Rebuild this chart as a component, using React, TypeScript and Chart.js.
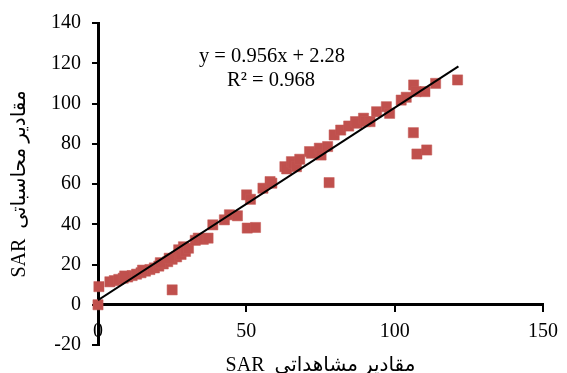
import { useEffect, useRef } from "react";
import { Chart, registerables } from "chart.js";

Chart.register(...registerables);

const observedSAR = [
  0, 0.3, 4, 5.5, 7, 8.5, 10, 11.5, 13, 14.5, 16, 17.5, 19, 20.5, 22, 23.5, 25, 26.5,
  9, 15, 21, 24,
  27.2, 28, 28.8, 29.5, 30.5, 25, 32.8, 33.8, 35.5, 37.1, 38.7, 42.6, 44.3, 47,
  50.3, 53.1, 50.1, 51.4, 55.6, 58, 58.6, 63, 63.6, 65.2, 65.8, 66.9, 68, 71.3,
  71.9, 74.6, 75.2, 77.4, 77.9, 79.6, 81.8, 84.5, 86.8, 87.3, 89.5, 90.1, 91.7,
  93.9, 97.2, 98.3, 102.2, 103.9, 106.4, 107.2, 110.2, 113.8, 121.2, 106.3, 107.5, 110.8,
];
const computedSAR = [
  0, 9, 11.4, 12, 12.6, 13.2, 13.8, 14.5, 15.2, 15.9, 16.7, 17.5, 18.3, 19.2, 20.3, 21.4, 22.6, 23.8,
  14.3, 17.2, 20.9, 23.1,
  27.3, 25, 28.8, 26.5, 28.1, 7.4, 32, 33.1, 32.5, 33.1, 39.7, 42.2, 44.7, 44.2,
  38.1, 38.4, 54.6, 52.4, 57.9, 61.2, 60.4, 68.6, 67.5, 71.1, 70.3, 68.6, 72.3, 76.1,
  75.3, 77.8, 74.4, 78.6, 60.7, 84.4, 86.8, 88.8, 91, 90.2, 92.7, 91, 91,
  95.9, 98.4, 95.1, 101.7, 103.1, 109.2, 105.9, 105.9, 110, 111.7, 85.5, 74.9, 76.9,
];

// Linear trendline
const trendSlope = 0.956;
const trendIntercept = 2.28;
const trendXRange = [0, 121.5];

// Axis ticks
const xTickValues = [0, 50, 100, 150];
const yTickValues = [-20, 0, 20, 40, 60, 80, 100, 120, 140];

const equationLabel = "y = 0.956x + 2.28";
const r2Label = "R² = 0.968";
const xTitle = "SAR  مقادیر مشاهداتی";
const yTitle = "SAR  مقادیر محاسباتی";

const FONT_FAMILY = '"Liberation Serif", "Times New Roman", "DejaVu Sans", serif';

const annotationPlugin = {
  id: "annotations",
  afterDraw(chart: any) {
    const { ctx, chartArea } = chart;
    ctx.save();
    ctx.fillStyle = "#000";
    ctx.textAlign = "center";
    ctx.textBaseline = "middle";
    ctx.font = `20.5px ${FONT_FAMILY}`;
    ctx.fillText(equationLabel, 272, 57);
    ctx.fillText(r2Label, 271, 81);
    ctx.font = `20px ${FONT_FAMILY}`;
    ctx.textBaseline = "alphabetic";
    ctx.fillText(xTitle, (chartArea.left + chartArea.right) / 2, 371);
    ctx.restore();
  },
};

export default function App() {
  const canvasRef = useRef<HTMLCanvasElement | null>(null);

  useEffect(() => {
    const canvas = canvasRef.current;
    if (!canvas) return;

    const points = observedSAR.map((x, i) => ({ x, y: computedSAR[i] }));
    const trend = trendXRange.map((x) => ({ x, y: trendSlope * x + trendIntercept }));

    const tickFont = { family: FONT_FAMILY, size: 20 };

    const chart = new Chart(canvas, {
      type: "scatter",
      data: {
        datasets: [
          {
            type: "line",
            label: "trend",
            data: trend,
            borderColor: "#000",
            borderWidth: 2,
            pointRadius: 0,
            fill: false,
          },
          {
            type: "scatter",
            label: "SAR",
            data: points,
            pointStyle: "rect",
            pointRadius: 7.2,
            backgroundColor: "#C0504D",
            borderColor: "#C55A57",
            borderWidth: 0.5,
            clip: false,
          },
        ],
      },
      options: {
        animation: false,
        responsive: false,
        events: [],
        layout: { padding: { left: 0, right: 16, top: 23, bottom: 28 } },
        plugins: {
          legend: { display: false },
          tooltip: { enabled: false },
          title: { display: false },
        },
        scales: {
          x: {
            type: "linear",
            position: { y: 0 } as any,
            min: 0,
            max: 150,
            afterBuildTicks: (scale: any) => {
              scale.ticks = xTickValues.map((value) => ({ value }));
            },
            grid: {
              display: true,
              drawOnChartArea: false,
              drawTicks: true,
              tickLength: 6,
              color: "#000",
              lineWidth: 2,
            },
            border: { display: true, color: "#000", width: 3 },
            ticks: {
              font: tickFont,
              color: "#000",
              padding: 9,
              maxRotation: 0,
              autoSkip: false,
            },
          },
          y: {
            type: "linear",
            position: "left",
            min: -20,
            max: 140,
            afterBuildTicks: (scale: any) => {
              scale.ticks = yTickValues.map((value) => ({ value }));
            },
            afterFit: (scale: any) => {
              scale.width = 98;
            },
            grid: {
              display: true,
              drawOnChartArea: false,
              drawTicks: true,
              tickLength: 6,
              color: "#000",
              lineWidth: 2,
            },
            border: { display: true, color: "#000", width: 3 },
            ticks: {
              font: tickFont,
              color: "#000",
              padding: 11,
              autoSkip: false,
            },
            title: {
              display: true,
              text: yTitle,
              font: { family: FONT_FAMILY, size: 20 },
              color: "#000",
              padding: { top: 8, bottom: 0 },
            },
          },
        },
      },
      plugins: [annotationPlugin],
    });

    return () => chart.destroy();
  }, []);

  return (
    <div style={{ position: "fixed", left: 0, top: 0, width: 567, height: 373, background: "#fff" }}>
      <canvas ref={canvasRef} width={567} height={373} style={{ display: "block" }} />
    </div>
  );
}
